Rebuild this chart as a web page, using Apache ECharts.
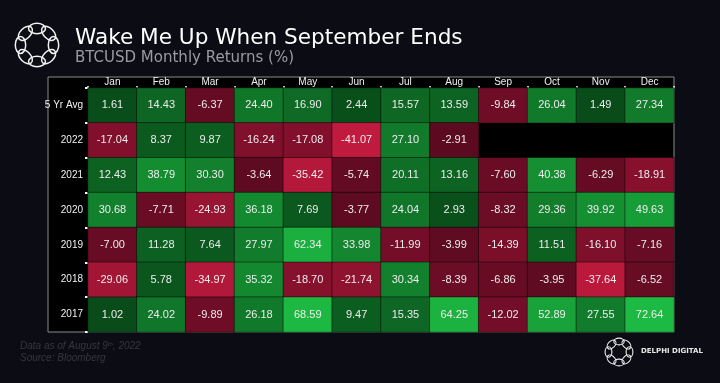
<!DOCTYPE html>
<html><head><meta charset="utf-8">
<script src="https://cdn.jsdelivr.net/npm/echarts@6/dist/echarts.min.js"></script>
<style>html,body{margin:0;padding:0;background:#0b0c14;}#c{width:720px;height:383px;}</style>
</head><body><div id="c"></div>
<script>
var months = ['Jan','Feb','Mar','Apr','May','Jun','Jul','Aug','Sep','Oct','Nov','Dec'];
var rowLabels = ['5 Yr Avg','2022','2021','2020','2019','2018','2017'];
var avg5  = [1.61,14.43,-6.37,24.40,16.90,2.44,15.57,13.59,-9.84,26.04,1.49,27.34];
var y2022 = [-17.04,8.37,9.87,-16.24,-17.08,-41.07,27.10,-2.91,null,null,null,null];
var y2021 = [12.43,38.79,30.30,-3.64,-35.42,-5.74,20.11,13.16,-7.60,40.38,-6.29,-18.91];
var y2020 = [30.68,-7.71,-24.93,36.18,7.69,-3.77,24.04,2.93,-8.32,29.36,39.92,49.63];
var y2019 = [-7.00,11.28,7.64,27.97,62.34,33.98,-11.99,-3.99,-14.39,11.51,-16.10,-7.16];
var y2018 = [-29.06,5.78,-34.97,35.32,-18.70,-21.74,30.34,-8.39,-6.86,-3.95,-37.64,-6.52];
var y2017 = [1.02,24.02,-9.89,26.18,68.59,9.47,15.35,64.25,-12.02,52.89,27.55,72.64];
var rows = [avg5,y2022,y2021,y2020,y2019,y2018,y2017];

var cells = [];
rows.forEach(function(r, ri){
  r.forEach(function(v, ci){ if (v !== null) cells.push([ci, ri, v]); });
});

function lerp(a,b,t){return Math.round(a+(b-a)*t);}
function mix(c1,c2,t){return 'rgb('+lerp(c1[0],c2[0],t)+','+lerp(c1[1],c2[1],t)+','+lerp(c1[2],c2[2],t)+')';}
function cellColor(v){
  if (v >= 0){ var t=Math.min(1, v/70); t=Math.pow(t,0.85); return mix([8,72,24],[28,186,66],t); }
  var s=Math.min(1, -v/40); return mix([84,9,30],[192,26,62],s);
}

var chart = echarts.init(document.getElementById('c'), null, {renderer:'canvas'});

function ring(cx, cy, R, rx, ry, n, w){
  var els=[];
  for (var i=0;i<n;i++){
    var a = i*2*Math.PI/n - Math.PI/2;
    els.push({type:'ellipse', shape:{cx:0, cy:0, rx:rx, ry:ry},
      x:cx+R*Math.cos(a), y:cy+R*Math.sin(a), rotation:-a - Math.PI/2,
      style:{fill:null, stroke:'#f2f2f2', lineWidth:w}, z:10});
  }
  return els;
}

var graphics = [
  {type:'rect', shape:{x:48, y:77, width:626, height:255}, style:{fill:'#000', stroke:'#8a8a8a', lineWidth:1}, z:-1},
  {type:'text', x:75, y:27, style:{text:'Wake Me Up When September Ends', fill:'#ffffff', font:'500 21.6px "DejaVu Sans"'}},
  {type:'text', x:75, y:51, style:{text:'BTCUSD Monthly Returns (%)', fill:'#9b9ba3', font:'15px "DejaVu Sans"'}},
  {type:'text', x:20, y:341, style:{rich:{a:{fill:'#363642', font:'italic 10px "Liberation Sans"'}, s:{fill:'#363642', font:'italic 6px "Liberation Sans"', verticalAlign:'top'}}, text:'{a|Data as of August 9}{s|th}{a|, 2022}'}},
  {type:'text', x:20, y:353, style:{text:'Source: Bloomberg', fill:'#363642', font:'italic 10px "Liberation Sans"'}},
  {type:'text', x:641, y:348, style:{text:'DELPHI DIGITAL', fill:'#e8e8e8', font:'bold 7px "DejaVu Sans"'}}
].concat(ring(37,45,16.5,8.5,5.2,8,1.5)).concat(ring(619,352,10.5,5.2,3.4,8,1.1));

chart.setOption({
  backgroundColor:'#0b0c14',
  animation:false,
  grid:{left:88, right:46, top:88, bottom:51},
  graphic: graphics,
  xAxis:{type:'category', data:months, position:'top',
    axisLine:{show:true, lineStyle:{color:'#bdbdbd', width:1}},
    axisTick:{show:true, length:2, lineStyle:{color:'#ffffff', width:1.5}},
    axisLabel:{color:'#f0f0f0', fontSize:10, fontFamily:'"Liberation Sans"', margin:1},
    splitLine:{show:false}},
  yAxis:{type:'category', data:rowLabels, inverse:true,
    axisLine:{show:false},
    axisTick:{show:true, length:3, inside:false, lineStyle:{color:'#ffffff', width:2}},
    axisLabel:{color:'#f0f0f0', fontSize:10, fontFamily:'"Liberation Sans"', margin:5},
    splitLine:{show:false}},
  series:[{
    type:'heatmap', data:cells,
    itemStyle:{color:function(p){return cellColor(p.data[2]);}, borderColor:'rgba(0,0,0,0.45)', borderWidth:1},
    label:{show:true, color:'#ececec', fontSize:11, fontFamily:'"Liberation Sans"',
      formatter:function(p){return p.data[2].toFixed(2);}},
    emphasis:{disabled:true}
  }]
});
</script>
</body></html>
